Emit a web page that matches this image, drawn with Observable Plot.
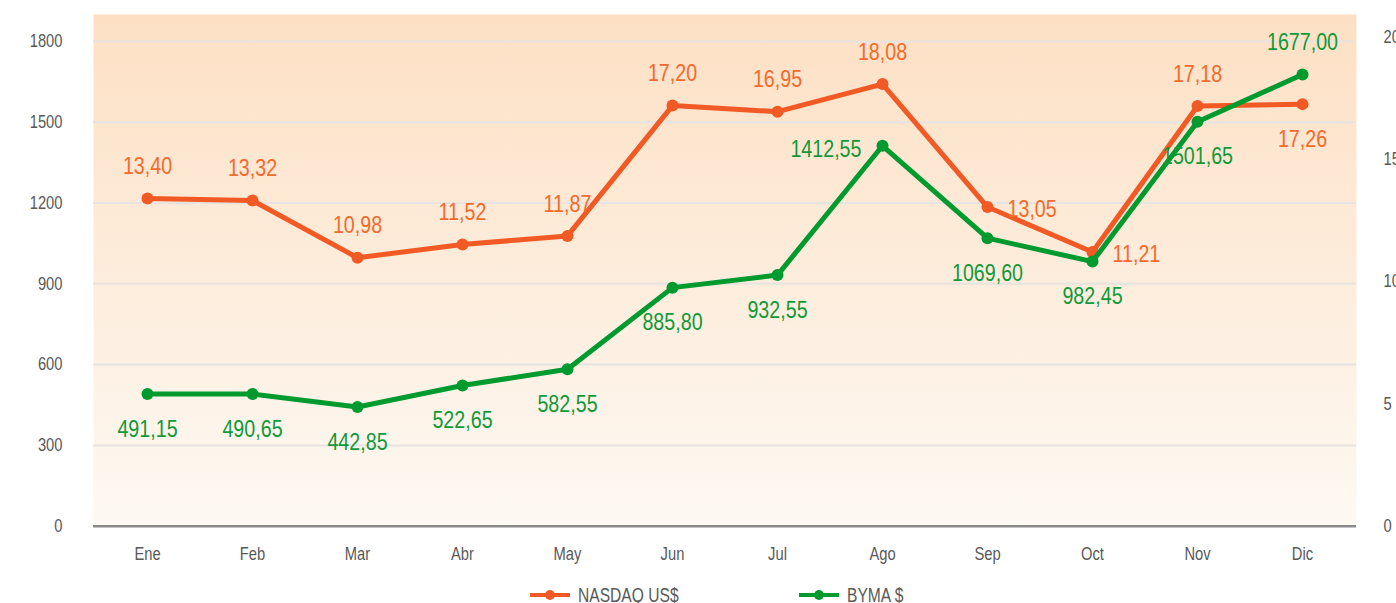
<!DOCTYPE html>
<html>
<head>
<meta charset="utf-8">
<script src="https://cdn.jsdelivr.net/npm/d3@7"></script>
<script src="https://cdn.jsdelivr.net/npm/@observablehq/plot@0.6"></script>
<style>
  html, body { margin: 0; padding: 0; background: #ffffff; width: 1396px; height: 603px; overflow: hidden; }
  body { position: relative; font-family: "Liberation Sans", Arial, sans-serif; }
  .legend-item { position: absolute; top: 583px; height: 24px; display: flex; align-items: center; font-size: 19.5px; color: #595959; white-space: nowrap; }
  .legend-item svg { display: block; margin-right: 8px; }
  .legend-item span { display: inline-block; transform: scaleX(0.8); transform-origin: left center; }
</style>
</head>
<body>
<div id="chart"></div>
<script>
// ---- data ----
const months = ["Ene","Feb","Mar","Abr","May","Jun","Jul","Ago","Sep","Oct","Nov","Dic"];
const nasdaq = [13.40, 13.32, 10.98, 11.52, 11.87, 17.20, 16.95, 18.08, 13.05, 11.21, 17.18, 17.26];
const byma = [491.15, 490.65, 442.85, 522.65, 582.55, 885.80, 932.55, 1412.55, 1069.60, 982.45, 1501.65, 1677.00];
const leftTicks = [0, 300, 600, 900, 1200, 1500, 1800];
const rightTicks = [0, 5, 10, 15, 20];
const seriesNames = ["NASDAQ US$", "BYMA $"];
// label placement relative to each point
const nasdaqLabelPos = ["top","top","top","top","top","top","top","top","right","right","top","bottom"];
const bymaLabelPos = ["bottom","bottom","bottom","bottom","bottom","bottom","bottom","left","bottom","bottom","bottom","top"];

// ---- styling ----
const K = 90.8; // right axis (US$) to left axis ($) factor
const orange = "#f15a24", green = "#009a2e";
const orangeText = "#f26a2c", greenText = "#11993a";
const fontFamily = '"Liberation Sans", Arial, sans-serif';
const narrow = 0.82; // horizontal condensing of text (narrow typeface look)
const fmt = v => d3.format(".2f")(v).replace(".", ",");

const nasdaqData = months.map((m, i) => ({month: m, value: nasdaq[i], y: nasdaq[i] * K, pos: nasdaqLabelPos[i]}));
const bymaData = months.map((m, i) => ({month: m, value: byma[i], y: byma[i], pos: bymaLabelPos[i]}));

function labels(data, color) {
  const base = {x: "month", y: "y", text: d => fmt(d.value), fill: color, fontSize: 24, fontFamily};
  return [
    Plot.text(data.filter(d => d.pos === "top"), {...base, dy: -32}),
    Plot.text(data.filter(d => d.pos === "bottom"), {...base, dy: 35}),
    Plot.text(data.filter(d => d.pos === "right"), {...base, dx: 20, dy: 2, textAnchor: "start"}),
    Plot.text(data.filter(d => d.pos === "left"), {...base, dx: -21, dy: 4, textAnchor: "end"})
  ];
}

const H = 578;
const chart = Plot.plot({
  width: 1396,
  height: H,
  marginLeft: 93,
  marginRight: 40,
  marginTop: 14,
  marginBottom: H - 525.7,
  style: {fontFamily, color: "#595959", background: "transparent", overflow: "visible"},
  x: {type: "point", domain: months, padding: 0.5, axis: null},
  y: {domain: [0, 1900], axis: null},
  marks: [
    Plot.frame({fill: "url(#bgGrad)", stroke: "none"}),
    Plot.ruleY(leftTicks.filter(d => d > 0), {stroke: "#e6e3e0", strokeWidth: 2}),
    Plot.ruleY([0], {stroke: "#8a8a8a", strokeWidth: 2.5}),
    Plot.axisX({tickSize: 0, tickPadding: 21, fontSize: 18, label: null, fill: "#595959"}),
    Plot.axisY({anchor: "left", ticks: leftTicks, tickFormat: d => String(d), tickSize: 0, tickPadding: 31, fontSize: 18, label: null, fill: "#595959"}),
    Plot.axisY({anchor: "right", ticks: rightTicks.map(v => v * K), tickFormat: d => String(Math.round(d / K)), tickSize: 0, tickPadding: 27, fontSize: 18, label: null, fill: "#595959"}),
    Plot.line(nasdaqData, {x: "month", y: "y", stroke: orange, strokeWidth: 5, strokeLinejoin: "round"}),
    Plot.dot(nasdaqData, {x: "month", y: "y", fill: orange, r: 6}),
    Plot.line(bymaData, {x: "month", y: "y", stroke: green, strokeWidth: 5, strokeLinejoin: "round"}),
    Plot.dot(bymaData, {x: "month", y: "y", fill: green, r: 6}),
    ...labels(nasdaqData, orangeText),
    ...labels(bymaData, greenText)
  ]
});

// gradient definition for the plot background
const defs = d3.select(chart).insert("defs", ":first-child");
const grad = defs.append("linearGradient").attr("id", "bgGrad").attr("x1", 0).attr("y1", 0).attr("x2", 0).attr("y2", 1);
grad.append("stop").attr("offset", "0%").attr("stop-color", "#fde0c4");
grad.append("stop").attr("offset", "100%").attr("stop-color", "#fdf9f3");

// condense text horizontally around its anchor point (position is in the transform)
chart.querySelectorAll("text").forEach(t => {
  const tr = t.getAttribute("transform");
  if (tr && tr.includes("translate")) {
    t.setAttribute("transform", `${tr} scale(${narrow},1)`);
  }
});

document.getElementById("chart").appendChild(chart);

// legend
const legendLeft = [530, 799];
[[seriesNames[0], orange], [seriesNames[1], green]].forEach(([name, c], i) => {
  const item = d3.select("body").append("div").attr("class", "legend-item").style("left", legendLeft[i] + "px");
  const s = item.append("svg").attr("width", 40).attr("height", 14);
  s.append("line").attr("x1", 0).attr("x2", 40).attr("y1", 7).attr("y2", 7).attr("stroke", c).attr("stroke-width", 4);
  s.append("circle").attr("cx", 20).attr("cy", 7).attr("r", 5).attr("fill", c);
  item.append("span").text(name);
});
</script>
</body>
</html>
